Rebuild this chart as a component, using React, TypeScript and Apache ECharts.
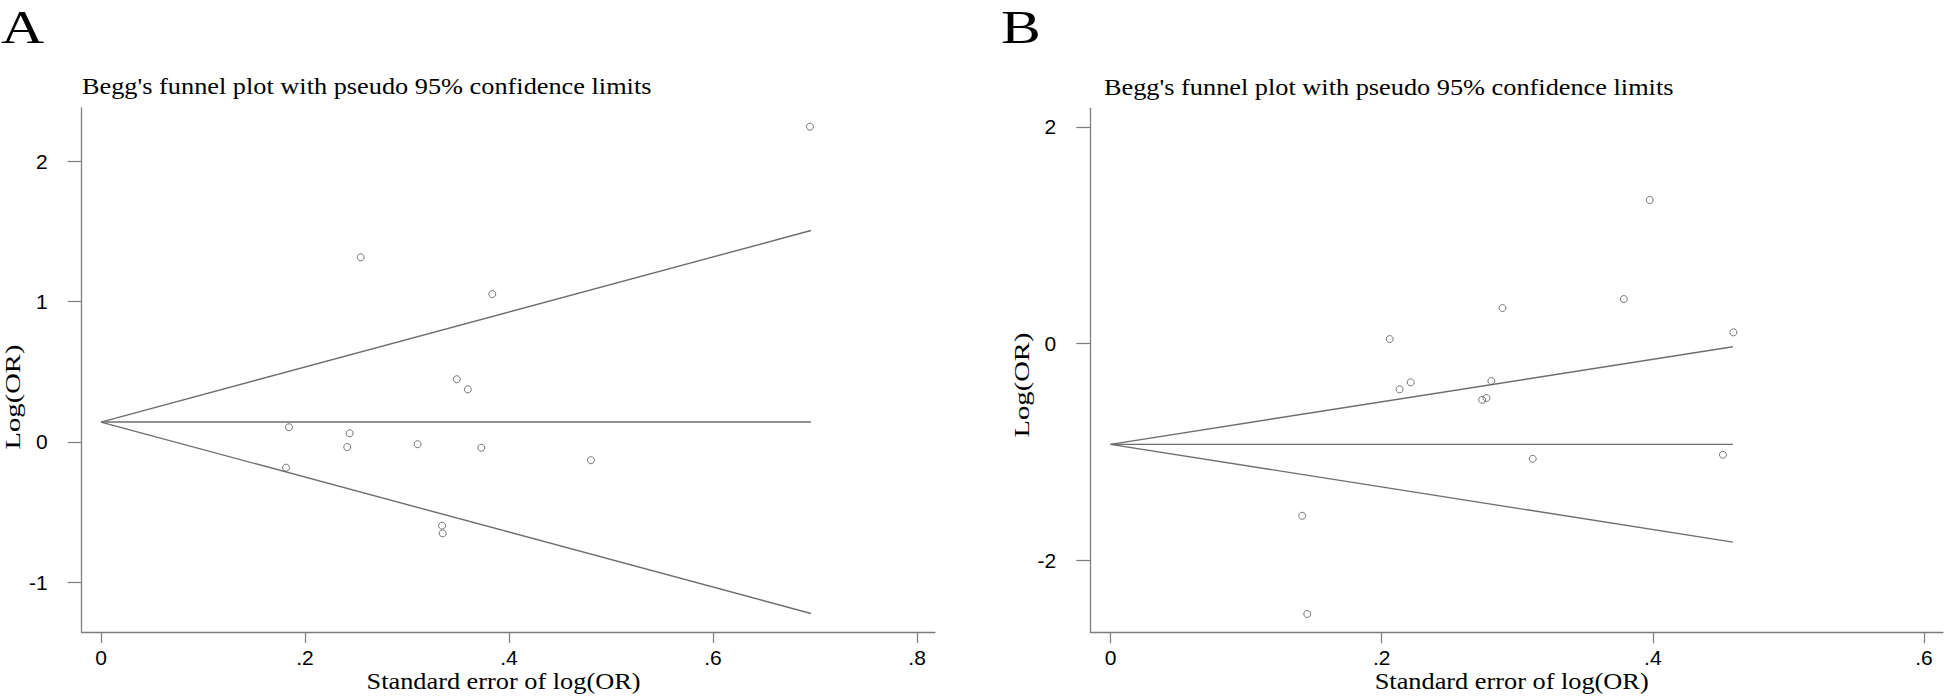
import React, { useEffect, useRef } from "react";
import * as echarts from "echarts";

// ---- texts ----
const panelLabels = ["A", "B"];
const chartTitle = "Begg's funnel plot with pseudo 95% confidence limits";
const xAxisTitle = "Standard error of log(OR)";
const yAxisTitle = "Log(OR)";

// ---- panel A data ----
const seA = [0.695, 0.2546, 0.3836, 0.3488, 0.3596, 0.1843, 0.2438, 0.2414, 0.3104, 0.3728, 0.4803, 0.1814, 0.3344, 0.335];
const logOrA = [2.247, 1.316, 1.054, 0.447, 0.375, 0.105, 0.062, -0.036, -0.016, -0.041, -0.13, -0.183, -0.596, -0.651];
const funnelSeA = [0, 0.696];
const pooledA = [0.142, 0.142];
const upperA = [0.142, 1.507];
const lowerA = [0.142, -1.222];
const xTicksA = [0, 0.2, 0.4, 0.6, 0.8];
const yTicksA = [-1, 0, 1, 2];
const xRangeA = [-0.0189, 0.8176];
const yRangeA = [-1.354, 2.38];

// ---- panel B data ----
const seB = [0.3977, 0.3786, 0.2891, 0.4594, 0.2059, 0.2132, 0.2214, 0.2809, 0.2741, 0.2773, 0.3114, 0.4517, 0.1414, 0.1451];
const logOrB = [1.325, 0.411, 0.328, 0.104, 0.042, -0.422, -0.357, -0.345, -0.518, -0.502, -1.062, -1.025, -1.588, -2.494];
const funnelSeB = [0, 0.459];
const pooledB = [-0.929, -0.929];
const upperB = [-0.929, -0.029];
const lowerB = [-0.929, -1.831];
const xTicksB = [0, 0.2, 0.4, 0.6];
const yTicksB = [-2, 0, 2];
const xRangeB = [-0.0149, 0.614];
const yRangeB = [-2.663, 2.171];

const SERIF = "'Liberation Serif', 'Times New Roman', serif";
const SANS = "'Liberation Sans', Arial, sans-serif";
const AXIS_COLOR = "#7d7d7d";
const LINE_COLOR = "#6e6e6e";

const fmt = (v: number) => {
  if (v === 0) return "0";
  if (Math.abs(v) < 1) return String(+v.toFixed(2)).replace("0.", ".");
  return String(v);
};

const zip = (xs: number[], ys: number[]) => xs.map((x, i) => [x, ys[i]]);

function axes(idx: number, xr: number[], yr: number[], xt: number[], yt: number[]) {
  const x = {
    type: "value",
    gridIndex: idx,
    min: xr[0],
    max: xr[1],
    axisLine: { show: true, onZero: false, lineStyle: { color: AXIS_COLOR, width: 1.3 } },
    axisTick: { show: true, length: 11, customValues: xt, lineStyle: { color: AXIS_COLOR, width: 1.2 } },
    axisLabel: { show: true, customValues: xt, formatter: fmt, margin: 15, color: "#000", fontSize: 21, fontFamily: SANS },
    splitLine: { show: false },
  };
  const y = {
    type: "value",
    gridIndex: idx,
    min: yr[0],
    max: yr[1],
    axisLine: { show: true, onZero: false, lineStyle: { color: AXIS_COLOR, width: 1.3 } },
    axisTick: { show: true, length: 14, customValues: yt, lineStyle: { color: AXIS_COLOR, width: 1.2 } },
    axisLabel: { show: true, customValues: yt, formatter: fmt, margin: 34, color: "#000", fontSize: 21, fontFamily: SANS },
    splitLine: { show: false },
  };
  return { x, y };
}

function lineSeries(idx: number, xs: number[], ys: number[]) {
  return {
    type: "line",
    xAxisIndex: idx,
    yAxisIndex: idx,
    data: zip(xs, ys),
    symbol: "none",
    showSymbol: false,
    silent: true,
    lineStyle: { color: LINE_COLOR, width: 1.4 },
    z: 2,
  };
}

function scatterSeries(idx: number, xs: number[], ys: number[]) {
  return {
    type: "scatter",
    xAxisIndex: idx,
    yAxisIndex: idx,
    data: zip(xs, ys),
    symbol: "circle",
    symbolSize: 7,
    itemStyle: { color: "rgba(255,255,255,0)", borderColor: "#555", borderWidth: 1 },
    z: 3,
  };
}

function txt(text: string, x: number, y: number, size: number, scaleX: number, opts: any = {}) {
  return {
    type: "text",
    x,
    y,
    scaleX,
    rotation: opts.rotation || 0,
    silent: true,
    style: {
      text,
      fill: "#000",
      fontSize: size,
      fontFamily: SERIF,
      align: opts.align || "left",
      verticalAlign: "middle",
    },
  };
}

export default function App() {
  const ref = useRef<HTMLDivElement>(null);
  useEffect(() => {
    document.body.style.margin = "0";
    if (!ref.current) return;
    const chart = echarts.init(ref.current, null, { renderer: "svg" });
    const a = axes(0, xRangeA, yRangeA, xTicksA, yTicksA);
    const b = axes(1, xRangeB, yRangeB, xTicksB, yTicksB);
    chart.setOption({
      animation: false,
      backgroundColor: "#fff",
      grid: [
        { left: 81.7, top: 108, width: 853.3, height: 524, outerBoundsMode: "none", containLabel: false },
        { left: 1090.3, top: 108.3, width: 852.7, height: 524, outerBoundsMode: "none", containLabel: false },
      ],
      xAxis: [a.x, b.x],
      yAxis: [a.y, b.y],
      series: [
        lineSeries(0, funnelSeA, upperA),
        lineSeries(0, funnelSeA, pooledA),
        lineSeries(0, funnelSeA, lowerA),
        scatterSeries(0, seA, logOrA),
        lineSeries(1, funnelSeB, upperB),
        lineSeries(1, funnelSeB, pooledB),
        lineSeries(1, funnelSeB, lowerB),
        scatterSeries(1, seB, logOrB),
      ],
      graphic: [
        txt(panelLabels[0], 1, 27.5, 47, 1.27),
        txt(panelLabels[1], 1001, 27.5, 47, 1.27),
        txt(chartTitle, 82, 86.5, 22.5, 1.17),
        txt(chartTitle, 1104, 86.7, 22.5, 1.17),
        txt(xAxisTitle, 503.5, 680.8, 22.5, 1.17, { align: "center" }),
        txt(xAxisTitle, 1511.7, 680.8, 22.5, 1.17, { align: "center" }),
        txt(yAxisTitle, 12.5, 397, 22, 1.3, { align: "center", rotation: Math.PI / 2 }),
        txt(yAxisTitle, 1021.6, 385, 22, 1.3, { align: "center", rotation: Math.PI / 2 }),
      ],
    });
    return () => chart.dispose();
  }, []);
  return <div ref={ref} style={{ position: "absolute", left: 0, top: 0, width: 1946, height: 698 }} />;
}
